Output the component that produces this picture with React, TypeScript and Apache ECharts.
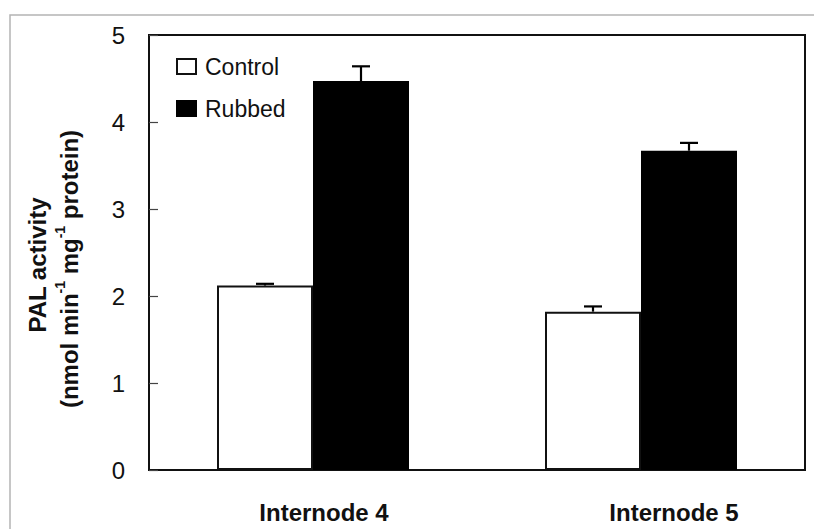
import React, { useEffect, useRef } from "react";
import * as echarts from "echarts";

const categories = ["Internode 4", "Internode 5"];
const controlValues = [2.12, 1.82];
const controlErrors = [0.02, 0.06];
const rubbedValues = [4.47, 3.67];
const rubbedErrors = [0.17, 0.09];
const yTicks = [0, 1, 2, 3, 4, 5];

const FONT = "'Liberation Sans', Arial, Helvetica, sans-serif";
const BAR_W = 96;
// label shift (in rich padding) to mimic reference label placement
const labelPads = [22, 66];

function errorSeries(name: string, values: number[], errors: number[], side: number) {
  return {
    type: "custom",
    name: name + " error",
    z: 10,
    silent: true,
    data: values.map((v, i) => [i, v, v + errors[i]]),
    renderItem: (params: any, api: any) => {
      const idx = api.value(0);
      const lowPt = api.coord([idx, api.value(1)]);
      const highPt = api.coord([idx, api.value(2)]);
      const x = lowPt[0] + side * (BAR_W / 2);
      const half = 9;
      const st = { stroke: "#000", lineWidth: 2.2 };
      return {
        type: "group",
        children: [
          { type: "line", shape: { x1: x, y1: lowPt[1], x2: x, y2: highPt[1] }, style: st },
          { type: "line", shape: { x1: x - half, y1: highPt[1], x2: x + half, y2: highPt[1] }, style: st },
        ],
      };
    },
  };
}

export default function App() {
  const ref = useRef<HTMLDivElement>(null);
  useEffect(() => {
    if (!ref.current) return;
    const chart = echarts.init(ref.current, null, { renderer: "svg" });
    chart.setOption({
      animation: false,
      backgroundColor: "#fff",
      textStyle: { fontFamily: FONT },
      grid: {
        left: 149,
        top: 35,
        right: 9,
        bottom: 59,
        show: true,
        borderColor: "#111",
        borderWidth: 2,
        backgroundColor: "transparent",
      },
      legend: {
        orient: "vertical",
        left: 171,
        top: 50,
        itemWidth: 19,
        itemHeight: 15,
        itemGap: 19,
        icon: "rect",
        textStyle: { fontSize: 23, color: "#111", fontFamily: FONT, padding: [0, 0, 0, 4] },
        data: [
          { name: "Control", itemStyle: { color: "#fff", borderColor: "#111", borderWidth: 2 } },
          { name: "Rubbed", itemStyle: { color: "#000", borderColor: "#000", borderWidth: 2 } },
        ],
      },
      xAxis: {
        type: "category",
        data: categories,
        axisLine: { lineStyle: { color: "#111", width: 2 } },
        axisTick: { inside: true, length: 8, lineStyle: { color: "#444", width: 1.2 } },
        axisLabel: {
          margin: 30,
          formatter: (v: string, i: number) => `{p${i}|${v}}`,
          rich: {
            p0: { fontSize: 24, fontWeight: "bold", color: "#111", fontFamily: FONT, padding: [0, 0, 0, labelPads[0]] },
            p1: { fontSize: 24, fontWeight: "bold", color: "#111", fontFamily: FONT, padding: [0, 0, 0, labelPads[1]] },
          },
        },
      },
      yAxis: {
        type: "value",
        min: 0,
        max: 5,
        interval: 1,
        splitLine: { show: false },
        axisLine: { show: true, lineStyle: { color: "#111", width: 2 } },
        axisTick: { show: true, inside: true, length: 9, lineStyle: { color: "#444", width: 1.2 } },
        axisLabel: {
          fontSize: 24,
          color: "#111",
          margin: 24,
          fontFamily: FONT,
          formatter: (v: number) => (yTicks.includes(v) ? String(v) : ""),
        },
      },
      graphic: [
        {
          type: "rect",
          silent: true,
          shape: { x: 10, y: 15, width: 900, height: 700 },
          style: { fill: "none", stroke: "#b4b4b4", lineWidth: 1.5 },
          z: -10,
        },
        {
          type: "text",
          x: 37,
          y: 265,
          rotation: Math.PI / 2,
          style: {
            text: "PAL activity",
            font: `bold 24px ${FONT}`,
            fill: "#111",
            align: "center",
            verticalAlign: "middle",
          },
        },
        {
          type: "text",
          x: 67,
          y: 269,
          rotation: Math.PI / 2,
          style: {
            text: "{b|(nmol min}{s|-1}{b| mg}{s|-1}{b| protein)}",
            align: "center",
            verticalAlign: "middle",
            fill: "#111",
            rich: {
              b: { font: `bold 24px ${FONT}`, fill: "#111", lineHeight: 28, verticalAlign: "bottom" },
              s: { font: `bold 14px ${FONT}`, fill: "#111", lineHeight: 14, verticalAlign: "top" },
            },
          },
        },
      ],
      series: [
        {
          name: "Control",
          type: "bar",
          data: controlValues,
          barWidth: BAR_W,
          barGap: "0%",
          itemStyle: { color: "#fff", borderColor: "#111", borderWidth: 2 },
        },
        {
          name: "Rubbed",
          type: "bar",
          data: rubbedValues,
          barWidth: BAR_W,
          barGap: "0%",
          itemStyle: { color: "#000", borderColor: "#000", borderWidth: 2 },
        },
        errorSeries("Control", controlValues, controlErrors, -1),
        errorSeries("Rubbed", rubbedValues, rubbedErrors, 1),
      ],
    });
    return () => chart.dispose();
  }, []);
  return (
    <div
      ref={ref}
      style={{ position: "fixed", left: 0, top: 0, width: 814, height: 529 }}
    />
  );
}
